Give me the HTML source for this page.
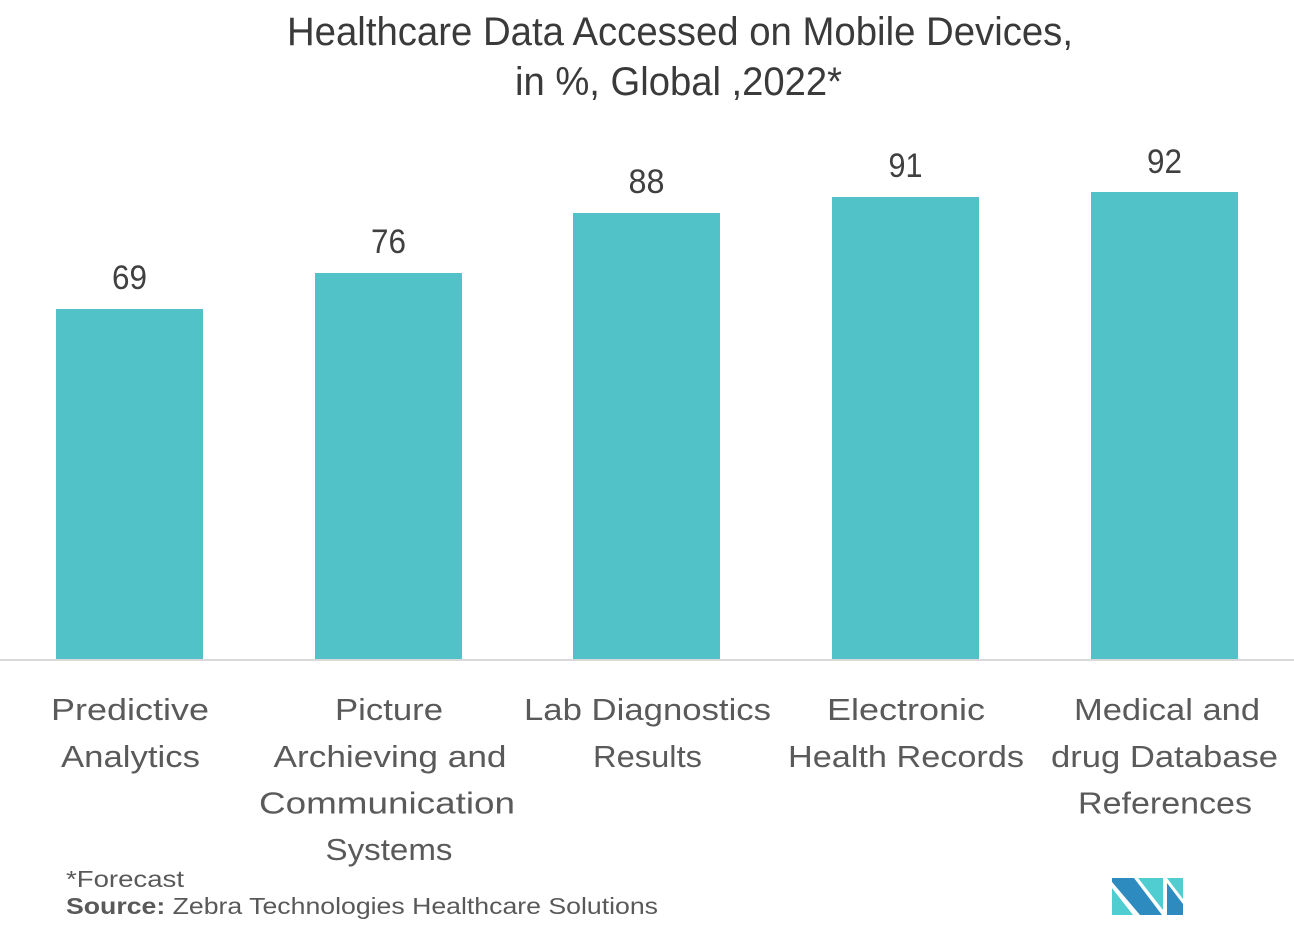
<!DOCTYPE html>
<html>
<head>
<meta charset="utf-8">
<style>
  html, body { margin:0; padding:0; background:#ffffff; }
  svg { display:block; }
  text { font-family: "Liberation Sans", "DejaVu Sans", sans-serif; }
</style>
</head>
<body>
<svg width="1294" height="942" viewBox="0 0 1294 942" xmlns="http://www.w3.org/2000/svg">
  <rect width="1294" height="942" fill="#ffffff"/>

  <!-- Title -->
  <text x="680" y="45" font-size="40" fill="#3a3a3a" text-anchor="middle" textLength="786" lengthAdjust="spacingAndGlyphs">Healthcare Data Accessed on Mobile Devices,</text>
  <text x="678.5" y="95" font-size="40" fill="#3a3a3a" text-anchor="middle" textLength="327" lengthAdjust="spacingAndGlyphs">in %, Global ,2022*</text>

  <!-- Bars -->
  <rect x="56" y="309" width="147" height="350" fill="#51c3c8"/>
  <rect x="315" y="273" width="147" height="386" fill="#51c3c8"/>
  <rect x="573" y="213" width="147" height="446" fill="#51c3c8"/>
  <rect x="832" y="197" width="147" height="462" fill="#51c3c8"/>
  <rect x="1091" y="192" width="147" height="467" fill="#51c3c8"/>

  <!-- Axis line -->
  <rect x="0" y="659" width="1294" height="2" fill="#d9d9d9"/>

  <!-- Value labels -->
  <g font-size="34" fill="#404040" text-anchor="middle">
    <text x="129.5" y="289" textLength="35" lengthAdjust="spacingAndGlyphs">69</text>
    <text x="388.5" y="253" textLength="35" lengthAdjust="spacingAndGlyphs">76</text>
    <text x="646.5" y="193" textLength="36" lengthAdjust="spacingAndGlyphs">88</text>
    <text x="905.5" y="177" textLength="34" lengthAdjust="spacingAndGlyphs">91</text>
    <text x="1164.5" y="173" textLength="35" lengthAdjust="spacingAndGlyphs">92</text>
  </g>

  <!-- Category labels -->
  <g font-size="31" fill="#5a5a5a" text-anchor="middle">
    <text x="130" y="720" textLength="158" lengthAdjust="spacingAndGlyphs">Predictive</text>
    <text x="130.5" y="767" textLength="139" lengthAdjust="spacingAndGlyphs">Analytics</text>

    <text x="389" y="720" textLength="108" lengthAdjust="spacingAndGlyphs">Picture</text>
    <text x="390" y="767" textLength="233" lengthAdjust="spacingAndGlyphs">Archieving and</text>
    <text x="387" y="813.5" textLength="256" lengthAdjust="spacingAndGlyphs">Communication</text>
    <text x="389" y="860" textLength="127" lengthAdjust="spacingAndGlyphs">Systems</text>

    <text x="647.5" y="720" textLength="247" lengthAdjust="spacingAndGlyphs">Lab Diagnostics</text>
    <text x="647.5" y="767" textLength="109" lengthAdjust="spacingAndGlyphs">Results</text>

    <text x="906" y="720" textLength="158" lengthAdjust="spacingAndGlyphs">Electronic</text>
    <text x="906" y="767" textLength="236" lengthAdjust="spacingAndGlyphs">Health Records</text>

    <text x="1167" y="720" textLength="186" lengthAdjust="spacingAndGlyphs">Medical and</text>
    <text x="1164.5" y="767" textLength="227" lengthAdjust="spacingAndGlyphs">drug Database</text>
    <text x="1165" y="813.5" textLength="174" lengthAdjust="spacingAndGlyphs">References</text>
  </g>

  <!-- Footer -->
  <text x="66" y="887" font-size="23" fill="#595959" textLength="118" lengthAdjust="spacingAndGlyphs">*Forecast</text>
  <text x="66" y="914" font-size="23" fill="#595959" textLength="592" lengthAdjust="spacingAndGlyphs"><tspan font-weight="bold">Source:</tspan> Zebra Technologies Healthcare Solutions</text>

  <!-- Logo -->
  <g>
    <polygon points="1112,878 1134,878 1162,915 1140,915 1112,882" fill="#2e8bc0"/>
    <polygon points="1112,888 1133,915 1112,915" fill="#4fcdd0"/>
    <polygon points="1138,878 1163,878 1163,910" fill="#4fcdd0"/>
    <polygon points="1167,878 1183,878 1183,899" fill="#4fcdd0"/>
    <polygon points="1167,883 1183,904 1183,915 1167,915" fill="#2e8bc0"/>
  </g>
</svg>
</body>
</html>
